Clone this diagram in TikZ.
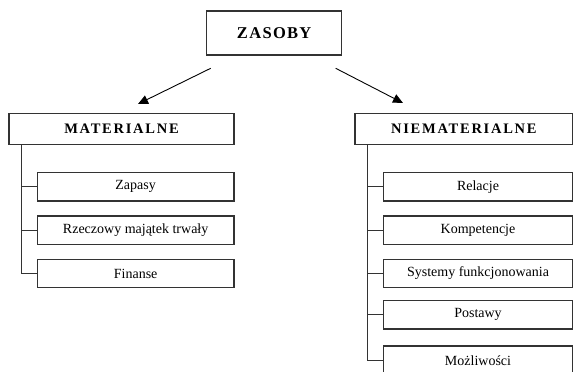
\documentclass[tikz,border=0pt]{standalone}
\usepackage{fontspec}
\setmainfont{Liberation Serif}
\newfontfamily\titlefont[LetterSpace=8]{Liberation Serif}
\newfontfamily\spacedfont[LetterSpace=12]{Liberation Serif}
\usetikzlibrary{arrows.meta}
\begin{document}
\begin{tikzpicture}[x=1pt,y=-1pt,
  box/.style={draw=black!80,line width=1.3pt,rectangle,inner sep=0pt,anchor=center},
  topbox/.style={box,minimum width=135pt,minimum height=44pt,font=\titlefont\bfseries\fontsize{16.5}{18}\selectfont},
  groupbox/.style={box,minimum height=31pt,font=\spacedfont\bfseries\fontsize{14.5}{16}\selectfont},
  itembox/.style={box,minimum height=28.3pt,font=\fontsize{14}{16}\selectfont},
  branch/.style={draw=black!80,line width=1pt},
  arrow/.style={draw=black,line width=0.9pt,-{Triangle[length=10pt,width=9pt]}}]
\useasboundingbox (0,0) rectangle (573,372);
\clip (0,0) rectangle (573,372);

% top level
\node[topbox] (zas) at (274.2,32.9) {ZASOBY};

% two groups
\node[groupbox,minimum width=225pt] (mat) at (121.5,128.8) {MATERIALNE};
\node[groupbox,minimum width=217.7pt] (nie) at (463.9,128.8) {NIEMATERIALNE};

% arrows from the top box to the groups
\coordinate (la) at (210.7,68.3);
\coordinate (lb) at (138,104);
\coordinate (ra) at (335.7,68.3);
\coordinate (rb) at (403,103);
\draw[arrow] (la) -- (lb);
\draw[arrow] (ra) -- (rb);

% material items
\begin{scope}[every node/.style={itembox,minimum width=196.7pt}]
  \node (m1) at (135.65,186.9) {Zapasy};
  \node (m2) at (135.65,230.2) {Rzeczowy majątek trwały};
  \node (m3) at (135.65,273.5) {Finanse};
\end{scope}

% non-material items
\begin{scope}[every node/.style={itembox,minimum width=189.4pt}]
  \node (n1) at (478,186.9) {Relacje};
  \node (n2) at (478,230.2) {Kompetencje};
  \node (n3) at (478,273.5) {Systemy funkcjonowania};
  \node (n4) at (478,314.7) {Postawy};
  \node (n5) at (478,360.2) {Możliwości};
\end{scope}

% tree branches
\coordinate (mv) at ([xshift=12.7pt]mat.south west);
\coordinate (nv) at ([xshift=13.3pt]nie.south west);
\draw[branch] (mv) |- (m3.west);
\foreach \i in {1,2} \draw[branch] (m\i.west) -- (m\i.west -| mv);
\draw[branch] (nv) |- (n5.west);
\foreach \i in {1,2,3,4} \draw[branch] (n\i.west) -- (n\i.west -| nv);
\end{tikzpicture}
\end{document}
